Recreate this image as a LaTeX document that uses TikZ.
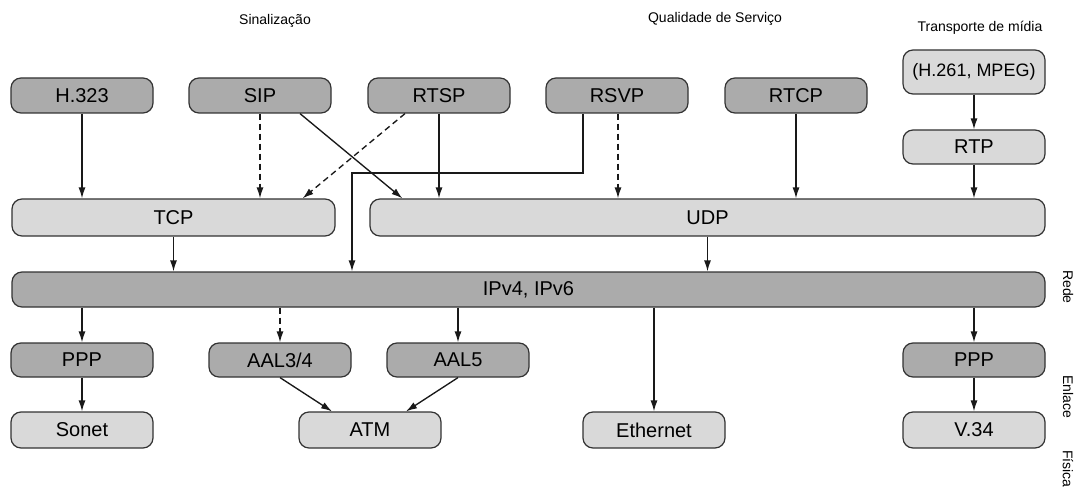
\documentclass[tikz,border=0pt]{standalone}
\usepackage{fontspec}
\setmainfont{Liberation Sans}
\usetikzlibrary{arrows.meta,calc}
\tikzset{
  box/.style={draw=black!80, line width=1.2pt, rounded corners=10pt, minimum height=35pt,
    minimum width=142pt, inner sep=0pt, font=\fontsize{20}{21}\selectfont},
  dark/.style={box, fill=gray!66},
  light/.style={box, fill=gray!30},
  lbl/.style={font=\fontsize{14}{15}\selectfont, inner sep=0pt},
  arr/.style={line width=1.35pt, draw=black!90, -{Latex[length=11pt,width=7pt]}},
  dsh/.style={arr, dash pattern=on 6pt off 4pt},
}
\begin{document}
\begin{tikzpicture}[x=1pt,y=-1pt]
\useasboundingbox (0,0) rectangle (1076,489);
% top labels
\node[lbl] (lsin) at (275,21) {Sinalização};
\node[lbl] (lqos) at (715,19) {Qualidade de Serviço};
\node[lbl] (ltra) at (980,28) {Transporte de mídia};
% right labels
\node[lbl,rotate=-90] (lrede) at (1068,287) {Rede};
\node[lbl,rotate=-90] (lenl) at (1068,397) {Enlace};
\node[lbl,rotate=-90] (lfis) at (1068,469) {Física};
% top row
\node[dark] (h323) at (82,95.5) {H.323};
\node[dark] (sip) at (260,95.5) {SIP};
\node[dark] (rtsp) at (439,95.5) {RTSP};
\node[dark] (rsvp) at (617,95.5) {RSVP};
\node[dark] (rtcp) at (796,95.5) {RTCP};
\node[light,minimum height=44pt,font=\fontsize{18}{19}\selectfont] (mpeg) at (974,72) {(H.261, MPEG)};
\node[light,minimum height=34pt] (rtp) at (974,147) {RTP};
% transport
\node[light,minimum width=323pt,minimum height=37pt] (tcp) at (173.5,217.5) {TCP};
\node[light,minimum width=675pt,minimum height=37pt] (udp) at (707.5,217.5) {UDP};
% network
\node[dark,minimum width=1033pt] (ip) at (528.5,289.5) {IPv4, IPv6};
% link
\node[dark,minimum height=34pt] (ppp1) at (82,360) {PPP};
\node[dark,minimum height=34pt] (aal34) at (280,360) {AAL3/4};
\node[dark,minimum height=34pt] (aal5) at (458,360) {AAL5};
\node[dark,minimum height=34pt] (ppp2) at (974,360) {PPP};
% physical
\node[light,minimum height=36pt] (sonet) at (82,430) {Sonet};
\node[light,minimum height=36pt] (atm) at (370,430) {ATM};
\node[light,minimum height=36pt] (eth) at (654,430) {Ethernet};
\node[light,minimum height=36pt] (v34) at (974,430) {V.34};
% connectors top -> transport
\draw[arr] (h323.south) -- (h323.south |- tcp.north);
\draw[dsh] (sip.south) -- (sip.south |- tcp.north);
\draw[arr] ($(sip.south)+(40,0)$) -- ($(udp.north west)+(33,0)$);
\draw[dsh] ($(rtsp.south)+(-34,0)$) -- ($(tcp.north east)+(-33,0)$);
\draw[arr] (rtsp.south) -- (rtsp.south |- udp.north);
\coordinate (bend) at (352,173);
\draw[arr] ($(rsvp.south)+(-34,0)$) |- (bend) -- (bend |- ip.north);
\draw[dsh] ($(rsvp.south)+(1,0)$) -- ($(rsvp.south |- udp.north)+(1,0)$);
\draw[arr] (rtcp.south) -- (rtcp.south |- udp.north);
\draw[arr] (mpeg.south) -- (rtp.north);
\draw[arr] (rtp.south) -- (rtp.south |- udp.north);
% transport -> ip
\draw[arr] (tcp.south) -- (tcp.south |- ip.north);
\draw[arr] (udp.south) -- (udp.south |- ip.north);
% ip -> link
\draw[arr] (ip.south -| ppp1) -- (ppp1.north);
\draw[dsh] (ip.south -| aal34) -- (aal34.north);
\draw[arr] (ip.south -| aal5) -- (aal5.north);
\draw[arr] (ip.south -| eth) -- (eth.north);
\draw[arr] (ip.south -| ppp2) -- (ppp2.north);
% link -> physical
\draw[arr] (ppp1.south) -- (sonet.north);
\draw[arr] (ppp2.south) -- (v34.north);
\draw[arr] (aal34.south) -- ($(atm.north)+(-38,0)$);
\draw[arr] (aal5.south) -- ($(atm.north)+(36,0)$);
\end{tikzpicture}
\end{document}
